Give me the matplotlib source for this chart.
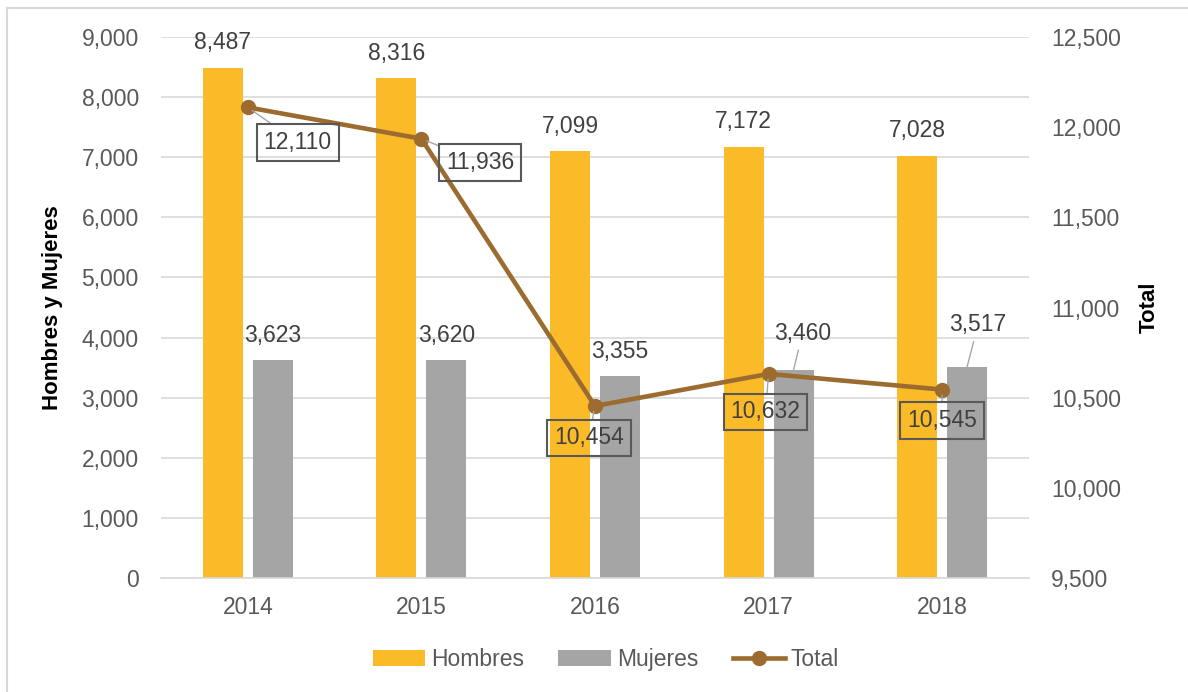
import matplotlib.pyplot as plt
import numpy as np
from matplotlib.lines import Line2D

plt.rcParams['font.family'] = ['Liberation Sans', 'DejaVu Sans']

anios = ['2014', '2015', '2016', '2017', '2018']
hombres = [8487, 8316, 7099, 7172, 7028]
mujeres = [3623, 3620, 3355, 3460, 3517]
total = [12110, 11936, 10454, 10632, 10545]

# offsets (pixels) de las etiquetas
off_muj = [(0, 25), (0, 25), (0, 25), (9, 37), (11, 42)]
off_tot = [(50, -35), (59, -24), (-6, -32), (-3, -38), (0, -31)]

c_h = '#FBBA27'
c_m = '#A5A5A5'
c_t = '#9C6B30'
gris_txt = '#595959'
txt = '#404040'

fig = plt.figure(figsize=(11.88, 6.92), dpi=100)
ax = fig.add_axes([0.1355, 0.1647, 0.7306, 0.7818])
ax2 = ax.twinx()

x = np.arange(len(anios))
w = 0.23
d = 0.144
ax.bar(x - d, hombres, w, color=c_h, label='Hombres', zorder=2)
ax.bar(x + d, mujeres, w, color=c_m, label='Mujeres', zorder=2)

ax.set_xlim(-0.5, 4.5)
ax.set_ylim(0, 9000)
ax.set_yticks(np.arange(0, 9001, 1000))
ax.set_yticklabels([f'{v:,}' for v in range(0, 9001, 1000)])
ax.set_xticks(x)
ax.set_xticklabels(anios)
ax.grid(axis='y', color='#D9D9D9', linewidth=1.2, zorder=0)
ax.set_axisbelow(True)

for a in (ax, ax2):
    for s in a.spines.values():
        s.set_visible(False)
ax.spines['bottom'].set_visible(True)
ax.spines['bottom'].set_color('#D9D9D9')
ax.spines['bottom'].set_linewidth(1.2)

ax.tick_params(axis='both', length=0, labelsize=16.5, labelcolor=gris_txt)
ax.tick_params(axis='y', pad=16)
ax.tick_params(axis='x', pad=13)

ax2.plot(x, total, color=c_t, linewidth=3.3, marker='o', markersize=10,
         label='Total', zorder=3)
ax2.set_ylim(9500, 12500)
ax2.set_yticks(np.arange(9500, 12501, 500))
ax2.set_yticklabels([f'{v:,}' for v in range(9500, 12501, 500)])
ax2.tick_params(axis='y', length=0, labelsize=16.5, labelcolor=gris_txt, pad=16)

ax.set_ylabel('Hombres y Mujeres', fontsize=16, fontweight='bold', color='black')
ax.yaxis.set_label_coords(-0.113, 0.5)
ax2.set_ylabel('Total', fontsize=16, fontweight='bold', color='black')
ax2.yaxis.set_label_coords(1.127, 0.5)

for i, v in enumerate(hombres):
    ax.annotate(f'{v:,}', (x[i] - d, v), xytext=(0, 25), textcoords='offset pixels',
                ha='center', va='center', fontsize=16.5, color=txt, zorder=4)

for i, v in enumerate(mujeres):
    dx, dy = off_muj[i]
    props = None
    if dx != 0:
        props = dict(arrowstyle='-', color='#A6A6A6', lw=1, shrinkA=2, shrinkB=0)
    ax.annotate(f'{v:,}', (x[i] + d, v), xytext=(dx, dy), textcoords='offset pixels',
                ha='center', va='center', fontsize=16.5, color=txt, zorder=4,
                arrowprops=props)

for i, v in enumerate(total):
    dx, dy = off_tot[i]
    ax2.annotate(f'{v:,}', (x[i], v), xytext=(dx, dy), textcoords='offset pixels',
                 ha='center', va='center', fontsize=16.5, color=txt, zorder=5,
                 bbox=dict(boxstyle='square,pad=0.3', fc='none', ec=gris_txt, lw=1.5),
                 arrowprops=dict(arrowstyle='-', color='#A6A6A6', lw=1,
                                 shrinkA=0, shrinkB=4))

h1, l1 = ax.get_legend_handles_labels()
h2, l2 = ax2.get_legend_handles_labels()
leg = fig.legend(h1 + h2, l1 + l2, loc='center', bbox_to_anchor=(0.51, 0.047),
                 ncol=3, frameon=False, fontsize=16.5, handlelength=2.3,
                 handletextpad=0.25, columnspacing=1.5)
for t in leg.get_texts():
    t.set_color(gris_txt)

# marco del grafico
fig.add_artist(Line2D([7 / 1188, 7 / 1188], [0, 1 - 8 / 692], color='#D9D9D9',
                      lw=1.5, transform=fig.transFigure))
fig.add_artist(Line2D([7 / 1188, 1], [1 - 8 / 692, 1 - 8 / 692], color='#D9D9D9',
                      lw=1.5, transform=fig.transFigure))

fig.savefig('out.png', dpi=100, facecolor='white')
